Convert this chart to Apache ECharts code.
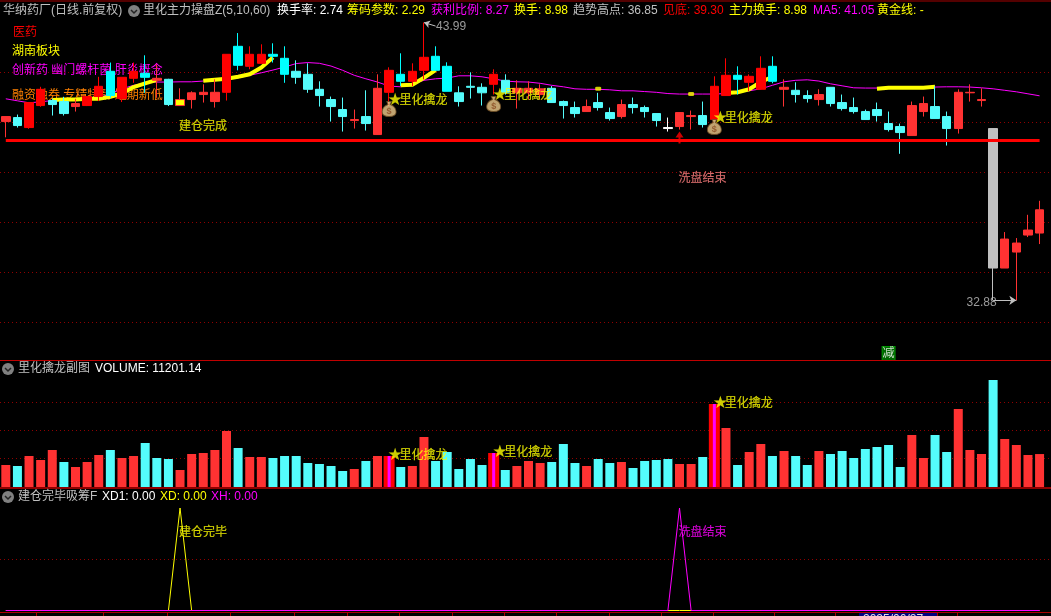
<!DOCTYPE html>
<html><head><meta charset="utf-8"><style>html,body{margin:0;padding:0;background:#000;overflow:hidden;width:1051px;height:616px}#c{width:1060px;height:616px}</style>
<script src="https://cdn.jsdelivr.net/npm/echarts@6/dist/echarts.min.js"></script></head><body><div id="c"></div><script>
const opens=[40.03,40.19,39.79,40.67,40.87,40.83,40.63,40.67,41.03,42.04,40.95,41.76,41.96,41.68,41.72,40.67,40.91,41.11,40.83,41.20,43.04,42.24,42.36,42.72,42.56,42.04,41.92,41.32,40.91,40.51,
40.07,40.23,39.51,41.20,41.92,41.64,42.08,42.64,42.24,41.18,41.44,41.40,41.52,41.68,41.18,41.18,41.11,41.36,40.83,40.59,40.43,40.79,40.39,40.23,40.71,40.59,40.35,39.79,39.83,40.23,
40.27,40.11,41.07,41.88,41.60,41.32,42.24,41.32,41.28,41.07,40.91,41.40,40.79,40.59,40.43,40.51,39.95,39.83,39.47,40.43,40.63,40.23,39.75,41.18,40.87,39.75,34.17,34.81,35.49,35.57];
const closes=[40.23,39.87,40.79,41.32,40.71,40.35,40.75,41.03,41.44,41.07,41.80,42.04,41.80,41.76,40.71,40.91,41.18,41.20,41.20,42.72,42.28,42.72,42.72,42.64,41.92,41.80,41.32,41.07,40.63,40.23,
40.11,39.95,41.36,42.08,41.64,42.04,42.60,42.08,41.24,40.83,41.40,41.18,41.92,41.20,41.36,41.36,41.34,40.79,40.67,40.35,40.63,40.59,40.15,40.71,40.59,40.43,40.07,39.75,40.39,40.27,
39.91,41.44,41.88,41.72,41.84,42.16,41.64,41.40,41.11,40.95,41.11,40.75,40.55,40.43,40.11,40.27,39.71,39.59,40.67,40.75,40.15,39.75,41.20,41.20,40.91,34.17,35.33,35.17,35.69,36.50];
const lows=[39.40,39.79,39.74,40.62,40.27,40.27,40.43,40.65,40.85,40.98,40.81,41.58,41.18,40.98,40.65,40.67,40.55,40.79,40.59,40.87,42.08,42.12,42.36,42.39,41.58,41.54,41.18,40.63,40.03,39.63,
39.75,39.67,39.51,40.65,41.45,41.45,41.72,42.05,41.24,40.63,40.95,40.67,41.11,41.11,40.55,40.91,40.91,40.79,40.15,40.19,40.43,40.47,40.07,40.15,40.35,40.19,39.83,39.63,39.71,39.71,
39.79,40.07,41.07,41.11,41.25,41.32,41.56,40.63,40.79,40.79,40.67,40.63,40.47,40.35,40.11,40.03,39.63,38.74,39.47,40.23,40.15,39.07,39.55,40.83,40.63,32.88,34.17,32.88,35.41,35.13];
const highs=[40.23,40.31,40.79,41.42,40.94,41.02,40.94,41.05,41.82,42.39,41.81,42.39,42.68,42.32,41.74,41.36,41.24,41.52,41.72,42.72,43.57,43.04,43.12,43.16,43.04,42.48,42.36,41.64,41.03,40.99,
40.51,41.28,41.92,42.20,42.76,42.36,43.99,43.04,42.40,41.44,42.00,41.56,42.12,41.92,41.68,41.64,41.52,41.45,40.87,40.83,40.91,41.18,40.59,40.91,40.99,40.67,40.35,40.19,40.39,40.47,
40.83,41.84,42.56,42.24,41.92,42.64,42.64,41.72,41.60,41.28,41.32,41.40,41.11,40.99,40.51,40.79,40.43,39.95,40.83,41.03,41.44,40.43,41.32,41.52,41.36,39.75,35.61,35.37,36.30,36.86];
const maLine=[40.94,40.86,40.78,40.82,40.87,40.91,40.94,40.97,40.97,41.15,41.34,41.48,41.58,41.61,41.61,41.62,41.62,41.65,41.68,41.72,41.78,41.88,41.98,42.09,42.21,42.35,42.39,42.36,42.25,42.08,
41.88,41.74,41.61,41.45,41.42,41.52,41.68,41.74,41.77,41.86,41.86,41.82,41.74,41.65,41.62,41.61,41.56,41.48,41.42,41.34,41.32,41.32,41.30,41.26,41.26,41.23,41.20,41.15,41.13,41.13,
41.13,41.13,41.15,41.21,41.26,41.34,41.48,41.62,41.68,41.70,41.65,41.54,41.46,41.38,41.37,41.37,41.40,41.40,41.40,41.40,41.41,41.42,41.42,41.41,41.38,41.34,41.28,41.22,41.14,41.06];
const n=null;
const goldLine=[n,n,n,n,40.89,40.91,40.91,40.94,40.94,41.02,41.15,41.41,41.56,41.70,n,n,n,41.66,41.70,41.74,41.82,41.92,42.19,42.59,n,n,n,n,n,n,
n,n,n,n,41.48,41.50,41.78,42.09,n,n,n,n,n,n,n,n,n,n,n,n,n,n,n,n,n,n,n,n,n,n,
n,n,41.17,41.20,41.32,41.61,41.82,n,n,n,n,n,n,n,n,41.34,41.38,41.38,41.38,41.38,41.42,n,n,n,n,n,n,n,n,n];
const goldDotBars=[51,59];
const goldDotPrices=[41.34,41.13];
const volumes=[7480,7140,10540,9180,12580,8500,6800,8500,10880,12580,9860,10540,14960,9860,9520,5780,11220,11560,12580,19040,13260,10200,10200,9860,10540,10540,8160,7820,7140,5440,
6120,8840,10540,10540,6800,7140,17000,8840,11900,6120,9520,7480,11560,5780,7140,8840,8160,8500,14620,8160,7140,9520,8160,8500,6460,8840,9180,9520,7820,7820,
10200,28220,20060,7480,11900,14620,10540,12240,10540,7480,12240,11220,12240,9860,12920,13600,14280,6800,17680,9860,17680,11900,26520,12580,11220,36380,16320,14280,10880,11201.14];
const volumeSides="rcrrrcrrrcrrcccrrrrrcrrcccccccrcrrcrrcccccrcrrrcccrccrccccrrcrrcrrcrccrcccccccrrccrrrcrrrr";
const xd1=[0,0,0,0,0,0,0,0,0,0,0,0,0,0,0,1,0,0,0,0,0,0,0,0,0,0,0,0,0,0,0,0,0,0,0,0,0,0,0,0,0,0,0,0,0,0,0,0,0,0,0,0,0,0,0,0,0,0,0,0,0,0,0,0,0,0,0,0,0,0,0,0,0,0,0,0,0,0,0,0,0,0,0,0,0,0,0,0,0,0];
const xh=[0,0,0,0,0,0,0,0,0,0,0,0,0,0,0,0,0,0,0,0,0,0,0,0,0,0,0,0,0,0,0,0,0,0,0,0,0,0,0,0,0,0,0,0,0,0,0,0,0,0,0,0,0,0,0,0,0,0,1,0,0,0,0,0,0,0,0,0,0,0,0,0,0,0,0,0,0,0,0,0,0,0,0,0,0,0,0,0,0,0];
const signalBars=[33,42,61];
const bagPrices=[40.53,40.73,39.81];
const notePrices=[40.85,41.07,40.15];
const supportPrice=39.30;
const priceGrid=[42,40,38,36,34,32];
const volGrid=[9800,19320,28840];
const pureRed=[2,3,7,8,10,11,19,21,22,33,35,36,42,61,62,64,65];
const pureCyan=[9,12,20,23,24,34,37,38,63,66];
const tickXs=[36,103,167,230,294,347,399,452,504,556,609,661,713,774,835,937,957];

const RED='#ff3232',CYAN='#54fcfc',GREY='#c0c0c0',YEL='#ffff00',MAG='#ff00ff';
const FAM='"Liberation Sans","Noto Sans CJK SC",sans-serif';
const FONT='12px '+FAM;
const cats=Array.from({length:91},(_,i)=>'D'+i);
const candles=opens.map((o,i)=>{
  const d={value:[o,closes[i],lows[i],highs[i]]};
  if(pureRed.includes(i))d.itemStyle={color:'#ff0000',borderColor:'#ff0000'};
  if(pureCyan.includes(i))d.itemStyle={color0:'#00ffff',borderColor0:'#00ffff'};
  if(i===15)d.itemStyle={color:YEL,borderColor:RED};
  if(i===57)d.itemStyle={color0:'#ffffff',borderColor0:'#ffffff'};
  if(i===85)d.itemStyle={color0:GREY,borderColor0:GREY};
  return d;
});
const dottedLines=(vals)=>({silent:true,symbol:'none',z:1,label:{show:false},animation:false,
  lineStyle:{color:'#900000',width:1,type:[1,3]},data:vals.map(v=>({yAxis:v}))});
const lab=(t,c,extra)=>Object.assign({show:true,formatter:t,color:c,fontSize:12,fontFamily:FAM,position:'right',distance:0,offset:[-1.5,0],
  textBorderColor:c,textBorderWidth:0.15},extra||{});
const note=(i,p,t,c,extra)=>({value:[i,p],label:lab(t,c,extra)});
const starLab=()=>({formatter:'{s|★}{t|里化擒龙}',rich:{s:{fontSize:17,color:YEL,width:12,fontFamily:'"DejaVu Sans"'},t:{fontSize:12,color:YEL,fontFamily:FAM,textBorderColor:YEL,textBorderWidth:0.15}}});
const star=(i,p)=>({value:[i,p],label:Object.assign({show:true,position:'right',distance:0,offset:[-2,0]},starLab())});

const texts=[];
const T=(x,y,t,c,z)=>texts.push({type:'text',x,y,z:z==null?10:z,silent:true,style:{text:t,fill:c,font:FONT,verticalAlign:'middle'}});
const L=(a,b,c,d,col,w)=>texts.push({type:'line',z:9,silent:true,shape:{x1:a,y1:b,x2:c,y2:d},style:{stroke:col,lineWidth:w||1}});
const Chev=(x,y)=>{texts.push({type:'circle',z:10,silent:true,shape:{cx:x,cy:y,r:6},style:{fill:'#808080'}});
  texts.push({type:'polyline',z:11,silent:true,shape:{points:[[x-3,y-1],[x,y+2],[x+3,y-1]]},style:{stroke:'#222',fill:null,lineWidth:1.5}});};
L(0,1,1060,1,'#a80000');L(0,360.5,1060,360.5,'#c00000');L(0,488,1060,488,'#c00000',1.5);L(0,612.5,1060,612.5,'#a80000');
tickXs.forEach(x=>L(x+.5,612,x+.5,616,'#a80000'));
texts.push({type:'rect',z:9,silent:true,shape:{x:859,y:613,width:78,height:4},style:{fill:'#000080'}});
T(863,620,'2025/06/27','#e0e0e0');
T(3,11,'华纳药厂(日线.前复权)',GREY);Chev(134,11);T(143,11,'里化主力操盘Z(5,10,60)',GREY);
T(277,11,'换手率: 2.74','#ffffff');T(347,11,'筹码参数: 2.29',YEL);T(431,11,'获利比例: 8.27',MAG);T(514,11,'换手: 8.98',YEL);
T(573,11,'趋势高点: 36.85',GREY);T(663,11,'见底: 39.30','#ff0000');T(729,11,'主力换手: 8.98',YEL);T(813,11,'MA5: 41.05',MAG);T(877,11,'黄金线: -',YEL);
T(13,33,'医药','#ff0000',0);T(12,52,'湖南板块',YEL,0);T(12,71,'创新药 幽门螺杆菌 肝炎概念',MAG,0);T(12,96,'融资融券 专精特新 短期新低','#ff8000',0);
Chev(8,369);T(18,369,'里化擒龙副图',GREY);T(95,369,'VOLUME: 11201.14','#ffffff');
Chev(8,497);T(18,497,'建仓完毕吸筹F',GREY);T(102,497,'XD1: 0.00','#ffffff');T(160,497,'XD: 0.00',YEL);T(211,497,'XH: 0.00',MAG);

const bagPath='path://M8 0 L16 0 L14 5 C22 8 24 14 24 18 C24 24 18 26 12 26 C6 26 0 24 0 18 C0 14 2 8 10 5 Z';
const arrowPath='path://M4 0 L8 6 L5 6 L5 12 L3 12 L3 6 L0 6 Z';
const base={type:'category',data:cats,show:false};
const option={
  backgroundColor:'#000',animation:false,
  graphic:{elements:texts},
  grid:[{left:0,top:22.3,width:1057,height:337.5},{left:0,top:360,width:1057,height:127},{left:0,top:508,width:1057,height:104.55}],
  xAxis:[Object.assign({gridIndex:0},base),Object.assign({gridIndex:1},base),Object.assign({gridIndex:1},base),Object.assign({gridIndex:1},base),Object.assign({gridIndex:2},base)],
  yAxis:[{gridIndex:0,show:false,min:30.5,max:44,scale:true},{gridIndex:1,show:false,min:0,max:43180},{gridIndex:2,show:false,min:-0.02,max:1}],
  series:[
   {type:'line',name:'MA60',xAxisIndex:0,yAxisIndex:0,data:maLine,showSymbol:false,z:1,lineStyle:{color:MAG,width:1},markLine:dottedLines(priceGrid)},
   {type:'line',name:'gold',xAxisIndex:0,yAxisIndex:0,data:goldLine,showSymbol:false,z:1,lineStyle:{color:YEL,width:4,cap:'butt'}},
   {type:'scatter',name:'goldDots',xAxisIndex:0,yAxisIndex:0,data:goldDotBars.map((b,i)=>[b,goldDotPrices[i]]),symbol:'roundRect',symbolSize:[6,4],z:1,itemStyle:{color:YEL}},
   {type:'candlestick',name:'K',xAxisIndex:0,yAxisIndex:0,data:candles,barWidth:9,z:3,
    itemStyle:{color:RED,color0:CYAN,borderColor:RED,borderColor0:CYAN,borderWidth:1},
    markLine:{silent:true,z:6,symbol:'none',label:{show:false},data:[
      [{coord:[0,supportPrice],lineStyle:{color:'#ff0000',width:3,type:'solid'},symbol:'none'},{coord:[89,supportPrice],symbol:'none'}],
      [{coord:[36,43.99],symbol:'arrow',symbolSize:6,lineStyle:{color:GREY,width:1,type:'solid'}},{coord:[37,43.85],symbol:'none'}],
      [{coord:[85,32.88],symbol:'none',lineStyle:{color:GREY,width:1,type:'solid'}},{coord:[87,32.88],symbol:'arrow',symbolSize:7}]
    ]}},
   {type:'scatter',name:'arrow',xAxisIndex:0,yAxisIndex:0,data:[[58,39.39]],symbol:arrowPath,symbolSize:[8,12],z:7,itemStyle:{color:'#ff0000'}},
   {type:'scatter',name:'green',xAxisIndex:0,yAxisIndex:0,data:[[76,30.75]],symbol:'rect',symbolSize:[13,14],z:8,itemStyle:{color:'#008000',borderColor:'#00b000',borderWidth:1},
     label:{show:true,position:'inside',formatter:'减',color:'#fff',fontSize:12,fontFamily:FAM}},
   {type:'scatter',name:'bags',xAxisIndex:0,yAxisIndex:0,data:signalBars.map((b,i)=>[b,bagPrices[i]]),symbol:bagPath,symbolSize:[14,15],z:8,
     itemStyle:{color:'#f0cc8c',borderColor:'#6a4a20',borderWidth:1},
     label:{show:true,position:'inside',offset:[0,2],formatter:'$',color:'#8a4a20',fontSize:9,fontFamily:'Liberation Sans',fontWeight:'bold'}},
   {type:'scatter',name:'notes',xAxisIndex:0,yAxisIndex:0,symbolSize:1,z:9,itemStyle:{color:'transparent'},data:[
     ...signalBars.map((b,i)=>star(b,notePrices[i])),
     note(15,39.83,'建仓完成',YEL),note(58,37.74,'洗盘结束','#ff8080'),
     note(37,43.85,'43.99',GREY,{distance:0,offset:[0,1],textBorderWidth:0}),
     note(85,32.80,'32.88',GREY,{position:'left',offset:[4,0],textBorderWidth:0})]},
   {type:'bar',name:'vol',xAxisIndex:1,yAxisIndex:1,barWidth:9,z:2,data:volumes.map((v,i)=>({value:v,itemStyle:{color:volumeSides[i]==='r'?RED:CYAN}}))},
   {type:'bar',name:'sigRed',xAxisIndex:2,yAxisIndex:1,barWidth:11,z:3,data:volumes.map((v,i)=>signalBars.includes(i)?v:null),itemStyle:{color:'#ff0000'}},
   {type:'bar',name:'sigMag',xAxisIndex:3,yAxisIndex:1,barWidth:3,z:4,data:volumes.map((v,i)=>signalBars.includes(i)?v:null),itemStyle:{color:MAG},
     markLine:dottedLines(volGrid)},
   {type:'scatter',name:'volNotes',xAxisIndex:3,yAxisIndex:1,symbolSize:1,z:9,itemStyle:{color:'transparent'},data:[
     star(33,10540),star(42,11560),star(61,28220)]},
   {type:'line',name:'XD',xAxisIndex:4,yAxisIndex:2,data:xd1,showSymbol:false,z:2,lineStyle:{color:YEL,width:1},markLine:dottedLines([0.5])},
   {type:'line',name:'XH',xAxisIndex:4,yAxisIndex:2,data:xh,showSymbol:false,z:3,lineStyle:{color:MAG,width:1}},
   {type:'scatter',name:'xNotes',xAxisIndex:4,yAxisIndex:2,symbolSize:1,z:9,itemStyle:{color:'transparent'},data:[
     note(15,0.755,'建仓完毕',YEL),note(58,0.755,'洗盘结束',MAG)]}
  ]
};
echarts.init(document.getElementById('c'),null,{renderer:'canvas',width:1060,height:616}).setOption(option);
</script></body></html>
